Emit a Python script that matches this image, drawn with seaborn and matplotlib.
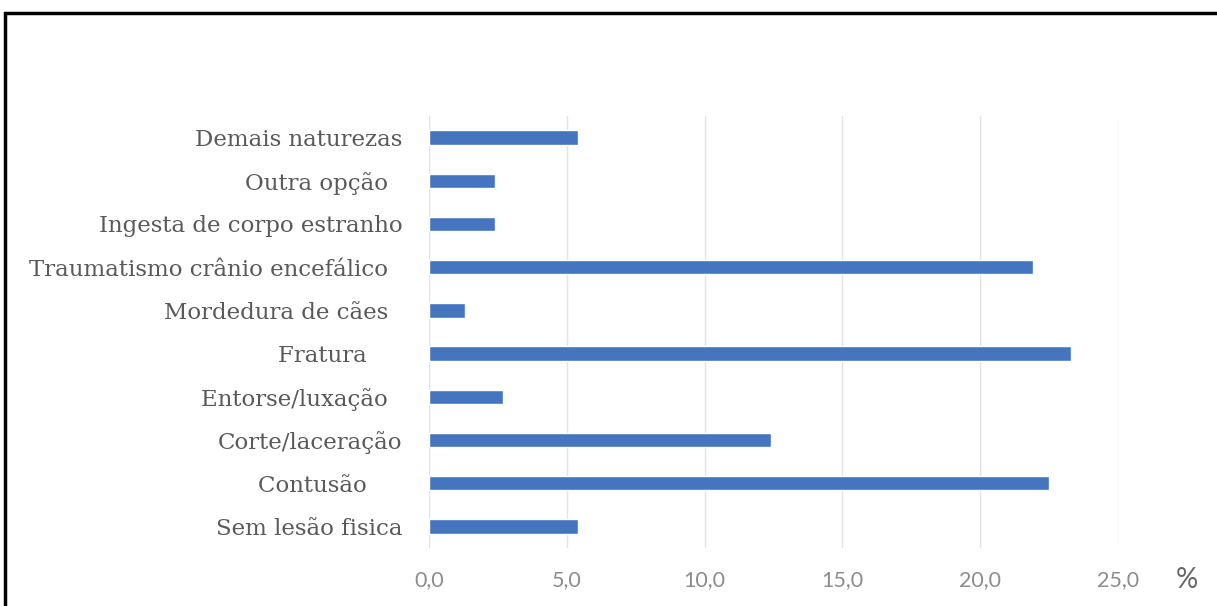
import matplotlib
matplotlib.use("Agg")
import matplotlib.pyplot as plt
import seaborn as sns
import pandas as pd
from matplotlib.patches import Rectangle

categories = [
    "Demais naturezas",
    "Outra opção  ",
    "Ingesta de corpo estranho",
    "Traumatismo crânio encefálico  ",
    "Mordedura de cães  ",
    "Fratura     ",
    "Entorse/luxação  ",
    "Corte/laceração",
    "Contusão     ",
    "Sem lesão fisica",
]
values = [5.4, 2.4, 2.4, 21.9, 1.3, 23.3, 2.7, 12.4, 22.5, 5.4]
xticks = [0, 5, 10, 15, 20, 25]
xtick_labels = ["0,0", "5,0", "10,0", "15,0", "20,0", "25,0"]

df = pd.DataFrame({"categoria": categories, "pct": values})

sns.set_theme(style="white")
plt.rcParams["font.family"] = ["DejaVu Sans"]

W, H = 1217, 606
fig = plt.figure(figsize=(W / 100, H / 100), dpi=100)
ax = fig.add_axes([429 / W, 1 - 548 / H, (1118 - 429) / W, (548 - 116) / H])

sns.barplot(data=df, x="pct", y="categoria", orient="h", color="#4675C0",
            width=0.33, saturation=1, ax=ax, zorder=3)

ax.set_xlim(0, 25)
ax.set_xticks(xticks)
ax.set_xticklabels(xtick_labels)
ax.set_xlabel("")
ax.set_ylabel("")
ax.grid(axis="x", color="#e3e3e3", linewidth=1.0, zorder=0)
ax.grid(axis="y", visible=False)
for s in ax.spines.values():
    s.set_visible(False)

ax.tick_params(axis="y", length=0, pad=19)
ax.tick_params(axis="x", length=0, pad=16)
for lbl in ax.get_yticklabels():
    lbl.set_fontfamily(["DejaVu Serif"])
    lbl.set_fontsize(16.5)
    lbl.set_color("#595959")
for lbl in ax.get_xticklabels():
    lbl.set_fontfamily(["Lato", "DejaVu Sans"])
    lbl.set_fontsize(15.5)
    lbl.set_color("#8c8c8c")

fig.text(1187 / W, 1 - 580 / H, "%", ha="center", va="center",
         fontsize=20, color="#666666", family=["Lato", "DejaVu Sans"])

fig.patches.append(Rectangle((5 / W, -0.05), 1.1, 1 - 13 / H + 0.05,
                             transform=fig.transFigure, fill=False,
                             edgecolor="black", linewidth=2.5))

fig.savefig("out.png", dpi=100, facecolor="white")
